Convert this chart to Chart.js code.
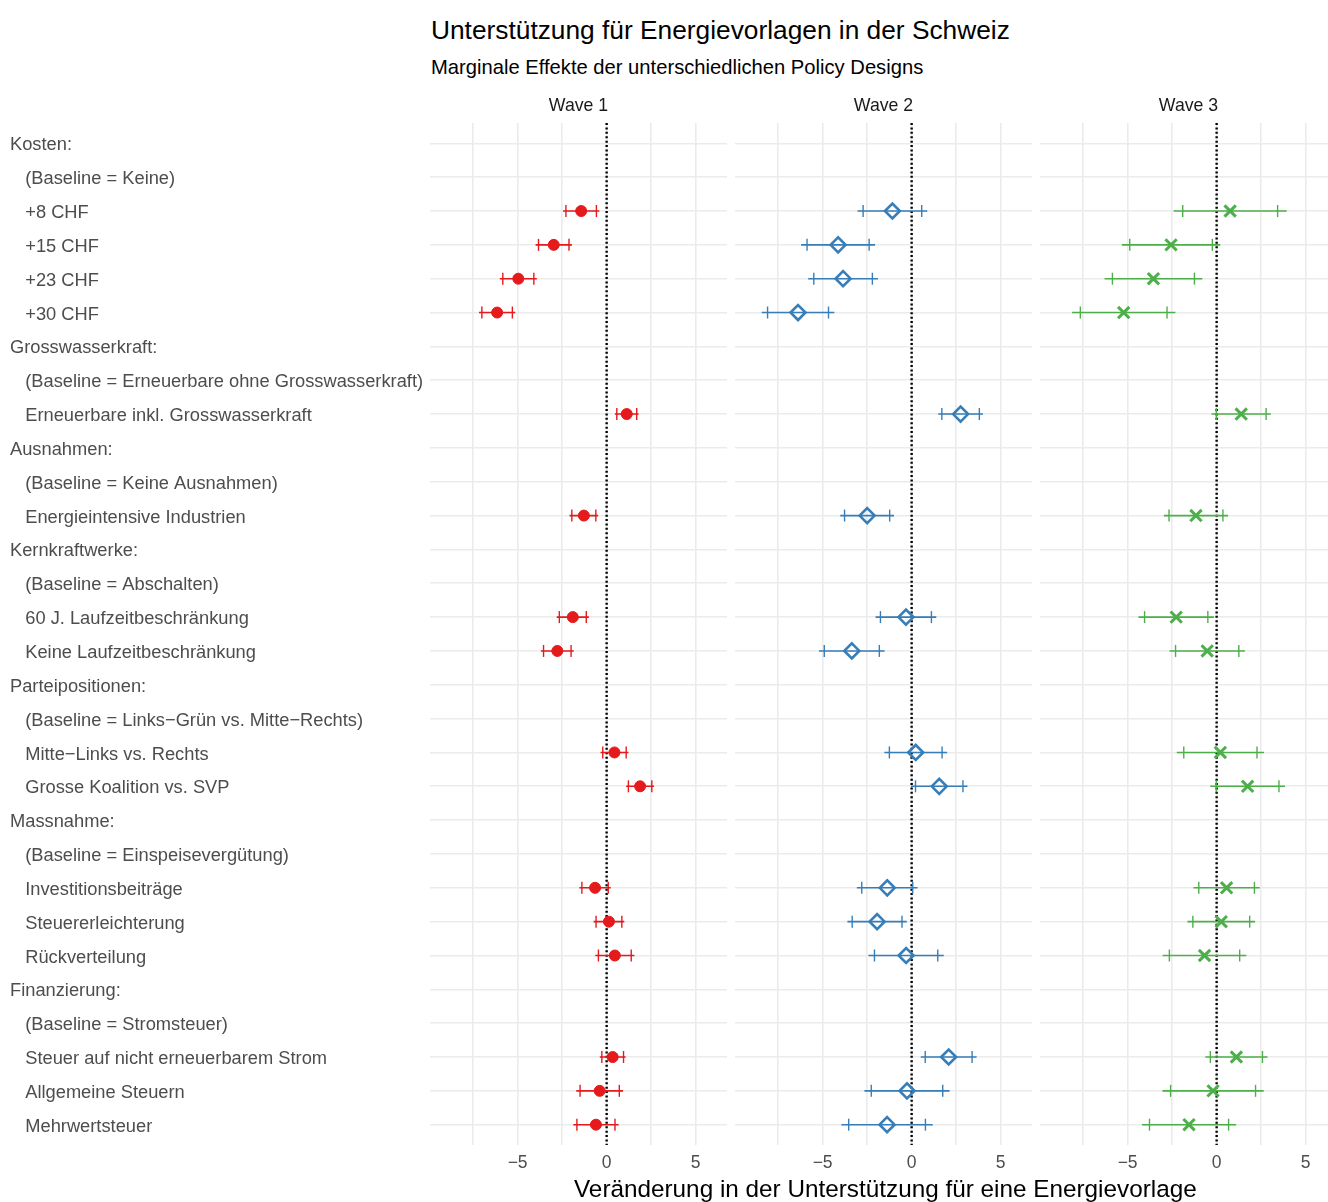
<!DOCTYPE html>
<html lang="de">
<head>
<meta charset="utf-8">
<title>Unterstützung für Energievorlagen in der Schweiz</title>
<script src="https://cdn.jsdelivr.net/npm/chart.js@4.4.1/dist/chart.umd.min.js"></script>
<style>
  html, body { margin: 0; padding: 0; width: 1328px; height: 1202px; overflow: hidden; background: #ffffff; }
  body { position: relative; font-family: "Liberation Sans", Arial, sans-serif; }
  canvas { position: absolute; left: 0; top: 0; }
  .txt { position: absolute; white-space: nowrap; color: #000000; }
  #title { left: 431px; top: 15px; font-size: 26.3px; line-height: 30px; }
  #subtitle { left: 431px; top: 55px; font-size: 20.2px; line-height: 24px; }
  #xtitle { left: 574px; top: 1175px; font-size: 24.3px; line-height: 28px; }
</style>
</head>
<body>
<div id="title" class="txt">Unterstützung für Energievorlagen in der Schweiz</div>
<div id="subtitle" class="txt">Marginale Effekte der unterschiedlichen Policy Designs</div>
<canvas id="wave1" width="1340" height="1202"></canvas>
<canvas id="wave2" width="1340" height="1202"></canvas>
<canvas id="wave3" width="1340" height="1202"></canvas>
<div id="xtitle" class="txt">Veränderung in der Unterstützung für eine Energievorlage</div>
<script>
// ---- data -------------------------------------------------------------
const rowLabels = [
  'Kosten:',
  '(Baseline = Keine)',
  '+8 CHF',
  '+15 CHF',
  '+23 CHF',
  '+30 CHF',
  'Grosswasserkraft:',
  '(Baseline = Erneuerbare ohne Grosswasserkraft)',
  'Erneuerbare inkl. Grosswasserkraft',
  'Ausnahmen:',
  '(Baseline = Keine Ausnahmen)',
  'Energieintensive Industrien',
  'Kernkraftwerke:',
  '(Baseline = Abschalten)',
  '60 J. Laufzeitbeschränkung',
  'Keine Laufzeitbeschränkung',
  'Parteipositionen:',
  '(Baseline = Links\u2212Grün vs. Mitte\u2212Rechts)',
  'Mitte\u2212Links vs. Rechts',
  'Grosse Koalition vs. SVP',
  'Massnahme:',
  '(Baseline = Einspeisevergütung)',
  'Investitionsbeiträge',
  'Steuererleichterung',
  'Rückverteilung',
  'Finanzierung:',
  '(Baseline = Stromsteuer)',
  'Steuer auf nicht erneuerbarem Strom',
  'Allgemeine Steuern',
  'Mehrwertsteuer'
];

const waveTitles = ['Wave 1', 'Wave 2', 'Wave 3'];

const xTickValues = [-7.5, -5, -2.5, 0, 2.5, 5];
const xTickLabels = ['', '\u22125', '', '0', '', '5'];
const referenceValue = 0;

// point estimates and standard errors (null = header / baseline row)
const wave1Est = [null, null, -1.43, -2.97, -4.96, -6.15, null, null, 1.13, null, null, -1.28, null, null, -1.90, -2.77, null, null, 0.44, 1.88, null, null, -0.65, 0.13, 0.46, null, null, 0.34, -0.39, -0.60];
const wave1Se  = [null, null, 0.52, 0.52, 0.53, 0.52, null, null, 0.34, null, null, 0.41, null, null, 0.46, 0.47, null, null, 0.40, 0.40, null, null, 0.45, 0.44, 0.56, null, null, 0.37, 0.67, 0.65];

const wave2Est = [null, null, -1.08, -4.13, -3.85, -6.38, null, null, 2.75, null, null, -2.50, null, null, -0.32, -3.36, null, null, 0.23, 1.55, null, null, -1.37, -1.94, -0.31, null, null, 2.08, -0.26, -1.38];
const wave2Se  = [null, null, 1.00, 1.06, 1.00, 1.04, null, null, 0.64, null, null, 0.77, null, null, 0.87, 0.94, null, null, 0.90, 0.81, null, null, 0.87, 0.85, 1.08, null, null, 0.80, 1.22, 1.31];

const wave3Est = [null, null, 0.76, -2.56, -3.55, -5.22, null, null, 1.38, null, null, -1.16, null, null, -2.27, -0.53, null, null, 0.21, 1.74, null, null, 0.56, 0.26, -0.68, null, null, 1.11, -0.20, -1.55];
const wave3Se  = [null, null, 1.62, 1.41, 1.40, 1.48, null, null, 0.85, null, null, 0.92, null, null, 1.08, 1.08, null, null, 1.25, 1.07, null, null, 0.95, 0.97, 1.20, null, null, 0.89, 1.45, 1.35];

// ---- layout & style -----------------------------------------------------
const FONT = '"Liberation Sans", Arial, sans-serif';
Chart.defaults.font.family = FONT;

const CANVAS_W = 1340;
const PANEL_LEFT = [430, 735, 1040];
const PANEL_W = 297;
const LABEL_LEFT = 10;
const X_MIN = -9.92, X_MAX = 6.76;
const Y_MIN = -0.6, Y_MAX = rowLabels.length - 0.4;
const LABEL_NUDGE = 0.06;   // row labels sit a hair below the row centre
const Z90 = 1.645, Z95 = 1.96;
const GRID = '#ebebeb';

const styles = [
  { color: '#e41a1c', pointStyle: 'circle',   radius: 5.5, fill: '#e41a1c',       width: 1 },
  { color: '#377eb8', pointStyle: 'rectRot',  radius: 7.5, fill: 'rgba(0,0,0,0)', width: 2.6 },
  { color: '#4daf4a', pointStyle: 'crossRot', radius: 8,   fill: 'rgba(0,0,0,0)', width: 3 }
];

const yLabels = rowLabels.map(l => l.endsWith(':') ? l : '   ' + l);
const rowTicks = s => { s.ticks = rowLabels.map((_, i) => ({ value: i })); };

function buildPanel(canvasId, k, est, se) {
  const st = styles[k];
  const first = k === 0;
  const points = [], caps = [], ci = [];
  est.forEach((e, i) => {
    if (e === null) return;
    points.push({ x: e, y: i });
    caps.push({ x: e - Z90 * se[i], y: i }, { x: e + Z90 * se[i], y: i });
    ci.push({ x: e - Z95 * se[i], y: i }, { x: e + Z95 * se[i], y: i }, { x: null, y: null });
  });
  const zeroLine = [{ x: referenceValue, y: Y_MIN }, { x: referenceValue, y: Y_MAX }];

  const scales = {
    x: {
      type: 'linear', min: X_MIN, max: X_MAX,
      afterBuildTicks: s => { s.ticks = xTickValues.map(v => ({ value: v })); },
      afterFit: s => { s.height = 57; },
      grid: { color: GRID, lineWidth: 1.6, drawTicks: false },
      border: { display: false },
      ticks: {
        autoSkip: false, maxRotation: 0, padding: 8, color: '#4d4d4d',
        font: { size: 17.5 },
        callback: v => xTickLabels[xTickValues.indexOf(v)]
      }
    },
    y: {
      type: 'linear', reverse: true, min: Y_MIN, max: Y_MAX,
      afterBuildTicks: rowTicks,
      afterFit: s => { s.width = 0; },
      grid: { color: GRID, lineWidth: 1.6, drawTicks: false },
      border: { display: false },
      ticks: { display: false, autoSkip: false }
    }
  };
  if (first) {
    // separate label axis for the row names
    scales.rows = {
      type: 'linear', position: 'left', reverse: true,
      min: Y_MIN - LABEL_NUDGE, max: Y_MAX - LABEL_NUDGE,
      afterBuildTicks: rowTicks,
      afterFit: s => { s.width = PANEL_LEFT[0] - LABEL_LEFT; },
      grid: { display: false, drawTicks: false },
      border: { display: false },
      ticks: {
        autoSkip: false, crossAlign: 'far', padding: 0,
        color: '#4d4d4d', font: { size: 18.3 },
        callback: v => yLabels[v]
      }
    };
  }

  return new Chart(document.getElementById(canvasId), {
    type: 'scatter',
    data: {
      datasets: [
        { label: 'Schätzer', data: points, showLine: false,
          pointStyle: st.pointStyle, pointRadius: st.radius,
          pointBorderColor: st.color, pointBackgroundColor: st.fill, pointBorderWidth: st.width },
        { label: '90%-KI', data: caps, showLine: false,
          pointStyle: 'line', pointRotation: 90, pointRadius: 6,
          pointBorderColor: st.color, pointBorderWidth: 1.4 },
        { label: '95%-KI', data: ci, showLine: true, spanGaps: false,
          pointRadius: 0, borderColor: st.color, borderWidth: 1.6 },
        { label: 'Null', data: zeroLine, showLine: true, pointRadius: 0,
          borderColor: '#000000', borderWidth: 2.4, borderDash: [2, 2.4] }
      ]
    },
    options: {
      responsive: false,
      animation: false,
      events: [],
      layout: {
        autoPadding: false,
        padding: {
          left: first ? LABEL_LEFT : PANEL_LEFT[k],
          right: CANVAS_W - PANEL_LEFT[k] - PANEL_W,
          top: 0, bottom: 0
        }
      },
      plugins: {
        legend: { display: false },
        tooltip: { enabled: false },
        title: {
          display: true, text: waveTitles[k], fullSize: false,
          color: '#1a1a1a', font: { size: 17.7, weight: 'normal' },
          padding: { top: 95.8, bottom: 6.0 }
        }
      },
      scales
    }
  });
}

buildPanel('wave1', 0, wave1Est, wave1Se);
buildPanel('wave2', 1, wave2Est, wave2Se);
buildPanel('wave3', 2, wave3Est, wave3Se);
</script>
</body>
</html>
